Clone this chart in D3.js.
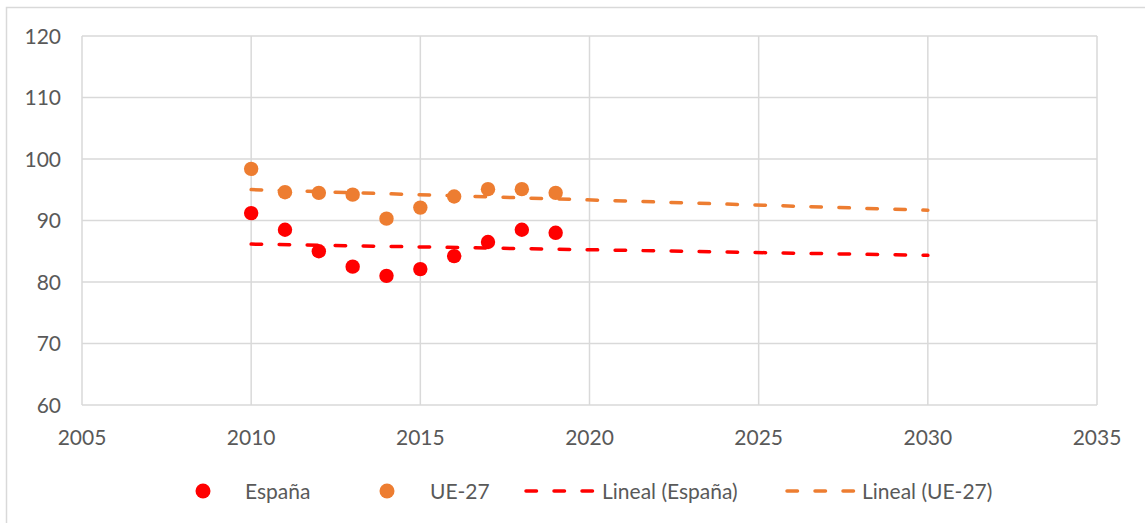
<!DOCTYPE html>
<meta charset="utf-8" />
<title>España vs UE-27</title>
<style>
  body { margin: 0; background: #fff; }
  text { font-family: Lato, "Open Sans", sans-serif; fill: #595959; }
  .grid line, .grid path { stroke: #d9d9d9; stroke-width: 1.5; }
</style>
<body>
<script src="https://d3js.org/d3.v7.min.js"></script>
<script>
// data
var years = [2010, 2011, 2012, 2013, 2014, 2015, 2016, 2017, 2018, 2019];
var espana = [91.2, 88.5, 85.0, 82.5, 81.0, 82.1, 84.2, 86.5, 88.5, 88.0];
var ue27 = [98.4, 94.6, 94.5, 94.2, 90.3, 92.1, 93.9, 95.1, 95.1, 94.5];
var xTicks = [2005, 2010, 2015, 2020, 2025, 2030, 2035];
var yTicks = [60, 70, 80, 90, 100, 110, 120];
var trendEnd = 2030;
var legendLabels = ["España", "UE-27", "Lineal (España)", "Lineal (UE-27)"];

var W = 1145, H = 523;
var margin = { top: 36, right: 48, bottom: 118, left: 82 };

var svg = d3.select("body").append("svg")
  .attr("width", W).attr("height", H);

// outer chart frame (only top and left edges are in view)
svg.append("path")
  .attr("d", "M6.5," + H + "V7.5H" + W)
  .attr("fill", "none")
  .attr("stroke", "#d9d9d9")
  .attr("stroke-width", 1.5);

var x = d3.scaleLinear().domain([2005, 2035]).range([margin.left, W - margin.right]);
var y = d3.scaleLinear().domain([60, 120]).range([H - margin.bottom, margin.top]);

// grid
var g = svg.append("g").attr("class", "grid");
g.selectAll(".v").data(xTicks).enter().append("line")
  .attr("x1", d => x(d)).attr("x2", d => x(d))
  .attr("y1", y(60)).attr("y2", y(120));
g.selectAll(".h").data(yTicks).enter().append("line")
  .attr("x1", x(2005)).attr("x2", x(2035))
  .attr("y1", d => y(d)).attr("y2", d => y(d));

// tick labels
svg.append("g").selectAll("text").data(yTicks).enter().append("text")
  .attr("x", 61).attr("y", d => y(d)).attr("dy", "0.36em")
  .attr("text-anchor", "end").style("font-size", "21px")
  .text(d => d);
svg.append("g").selectAll("text").data(xTicks).enter().append("text")
  .attr("x", d => x(d)).attr("y", 445)
  .attr("text-anchor", "middle").style("font-size", "21px")
  .text(d => d);

// least squares trend, as the spreadsheet draws it
function fit(xs, ys) {
  var mx = d3.mean(xs), my = d3.mean(ys);
  var sxy = d3.sum(xs, (v, i) => (v - mx) * (ys[i] - my));
  var sxx = d3.sum(xs, v => (v - mx) * (v - mx));
  var b = sxy / sxx;
  return v => my + b * (v - mx);
}

var series = [
  { name: "España", vals: espana, color: "#ff0000" },
  { name: "UE-27", vals: ue27, color: "#ed7d31" }
];

var line = d3.line().x(d => x(d[0])).y(d => y(d[1]));

series.forEach(function(s) {
  var f = fit(years, s.vals);
  var x0 = years[0];
  svg.append("path")
    .datum([[x0, f(x0)], [trendEnd, f(trendEnd)]])
    .attr("d", line)
    .attr("fill", "none")
    .attr("stroke", s.color)
    .attr("stroke-width", 3.5)
    .attr("stroke-linecap", "round")
    .attr("stroke-dasharray", "10.5 17.5");
});

series.forEach(function(s) {
  svg.append("g").selectAll("circle").data(years).enter().append("circle")
    .attr("cx", d => x(d))
    .attr("cy", (d, i) => y(s.vals[i]))
    .attr("r", 7.2)
    .attr("fill", s.color);
});

// legend
var ly = 491;
var leg = svg.append("g");
leg.append("circle").attr("cx", 203).attr("cy", ly).attr("r", 7.5).attr("fill", "#ff0000");
leg.append("circle").attr("cx", 387).attr("cy", ly).attr("r", 7.5).attr("fill", "#ed7d31");
leg.append("line").attr("x1", 526).attr("x2", 596).attr("y1", ly).attr("y2", ly)
  .attr("stroke", "#ff0000").attr("stroke-width", 3.5)
  .attr("stroke-linecap", "round").attr("stroke-dasharray", "10.5 17.5");
leg.append("line").attr("x1", 787).attr("x2", 857).attr("y1", ly).attr("y2", ly)
  .attr("stroke", "#ed7d31").attr("stroke-width", 3.5)
  .attr("stroke-linecap", "round").attr("stroke-dasharray", "10.5 17.5");
var lx = [245, 430, 602, 862];
leg.selectAll("text").data(legendLabels).enter().append("text")
  .attr("x", (d, i) => lx[i]).attr("y", ly).attr("dy", "0.36em")
  .style("font-size", "21px")
  .text(d => d);
</script>
</body>
